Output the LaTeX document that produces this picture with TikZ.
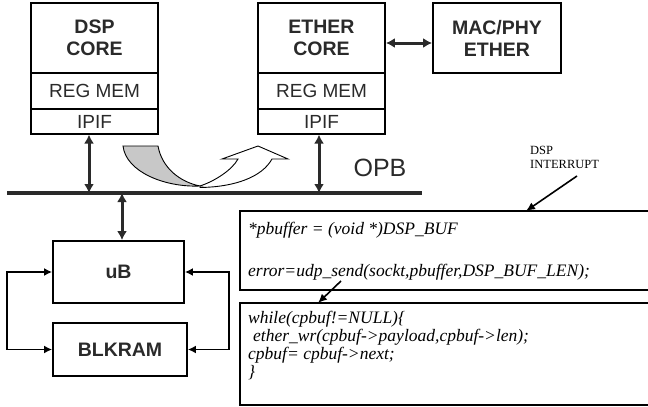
\documentclass[tikz,border=0pt]{standalone}
\usepackage{fontspec}
\setmainfont{Liberation Sans}
\newfontfamily\codefont{Liberation Serif}
\usetikzlibrary{arrows.meta}
\definecolor{ink}{HTML}{2A2A2A}
\definecolor{band}{HTML}{C8C8C8}
\begin{document}
\begin{tikzpicture}[x=1pt,y=-1pt,
  blk/.style={draw=black,line width=1.8pt,fill=white,inner sep=0pt,text=ink},
  core/.style={blk,minimum width=127pt,minimum height=70pt,align=center,
    font=\fontsize{19.5}{22}\selectfont\bfseries},
  regmem/.style={blk,minimum width=127pt,minimum height=36pt,
    font=\fontsize{19}{22}\selectfont},
  ipif/.style={blk,line width=1.2pt,minimum width=127pt,minimum height=25pt,
    font=\fontsize{19}{22}\selectfont},
  link/.style={draw=ink,line width=3pt,{Latex[length=9pt,width=10pt]}-{Latex[length=9pt,width=10pt]}},
  loop/.style={draw=black,line width=1.8pt,{Latex[length=8pt,width=8pt]}-{Latex[length=8pt,width=8pt]}},
  code/.style={draw=black,line width=1.3pt},
  codetext/.style={anchor=base west,inner sep=0pt,text=black,
    font=\codefont\itshape\fontsize{17.5}{20}\selectfont},
  pointer/.style={draw=black,line width=1.6pt,-{Latex[length=9pt,width=8pt]}}]
\useasboundingbox (0,0) rectangle (648,407);

% DSP stack
\node[core]   (dcore) at (94.5,38)  {DSP\\CORE};
\node[regmem] (dreg)  at (94.5,91)  {REG MEM};
\node[ipif]   (dipif) at (94.5,121.5) {\raisebox{-2pt}{IPIF}};

% ETHER stack
\node[core]   (ecore) at (321.5,38) {ETHER\\CORE};
\node[regmem] (ereg)  at (321.5,91) {REG MEM};
\node[ipif]   (eipif) at (321.5,121.5) {\raisebox{-2pt}{IPIF}};

% MAC/PHY block
\node[core,minimum width=128pt] (mac) at (497,38) {MAC/PHY\\ETHER};
\draw[link] ([yshift=-5pt]ecore.east) -- ([yshift=-5pt]mac.west);

% OPB bus
\coordinate (busL) at (7,193);
\coordinate (busR) at (422,193);
\draw[draw=ink,line width=3.2pt] (busL) -- (busR);
\node[text=ink,font=\fontsize{25}{28}\selectfont] (opb) at (380,168) {OPB};

\draw[link] ([xshift=-5.5pt]dipif.south) -- ([xshift=-5.5pt]dipif.south |- busL);
\draw[link] ([xshift=-2.5pt]eipif.south) -- ([xshift=-2.5pt]eipif.south |- busL);

% transfer arrow over the bus
\draw[black,line width=0.9pt,fill=white]
  (200,186) .. controls (215,181) and (232,170) .. (238,159)
  -- (222,159) -- (258,146) -- (288,159) -- (272,159)
  .. controls (262,177) and (235,187) .. (200,187.5) -- cycle;
\draw[black,line width=0.9pt,fill=band]
  (123,146) -- (158,146)
  .. controls (162,168) and (180,182) .. (200,186)
  .. controls (165,187.5) and (126,172) .. (123,146) -- cycle;

% microblaze and block RAM
\node[blk,minimum width=131pt,minimum height=62pt,
  font=\fontsize{19.5}{22}\selectfont\bfseries] (ub) at (118.5,272) {uB};
\node[blk,minimum width=134pt,minimum height=53pt,
  font=\fontsize{19.5}{22}\selectfont\bfseries] (ram) at (120,349.5) {BLKRAM};
\draw[link] (ub.north -| 122,0) -- (122,193);
\draw[loop] (ub.west) -- ++(-45,0) |- (ram.west);
\draw[loop] (ub.east) -- ++(44,0) |- (ram.east);

% code listings
\coordinate (c1a) at (240,211);
\coordinate (c1b) at (650,290);
\coordinate (c2a) at (240,303);
\coordinate (c2b) at (650,405);
\draw[code] (c1a) rectangle (c1b);
\draw[code] (c2a) rectangle (c2b);

\node[codetext] (l1) at (248,234) {*pbuffer = (void *)DSP\_BUF};
\node[codetext] (l2) at (248,276) {error=udp\_send(sockt,pbuffer,DSP\_BUF\_LEN);};
\node[codetext] (l3) at (248,323) {while(cpbuf!=NULL)\{};
\node[codetext] (l4) at (253,341) {ether\_wr(cpbuf->payload,cpbuf->len);};
\node[codetext] (l5) at (248,359) {cpbuf= cpbuf->next;};
\node[codetext] (l6) at (248,377) {\}};

\coordinate (jumpFrom) at (341,281);
\coordinate (jumpTo) at (318,303);
\draw[pointer] (jumpFrom) -- (jumpTo);

% interrupt annotation
\node[anchor=north west,inner sep=0pt,align=left,text=black,
  font=\codefont\fontsize{12.5}{14}\selectfont] (irq) at (530,146) {DSP\\INTERRUPT};
\coordinate (irqTo) at (526,211);
\draw[pointer] (577,176) -- (irqTo);
\end{tikzpicture}
\end{document}
